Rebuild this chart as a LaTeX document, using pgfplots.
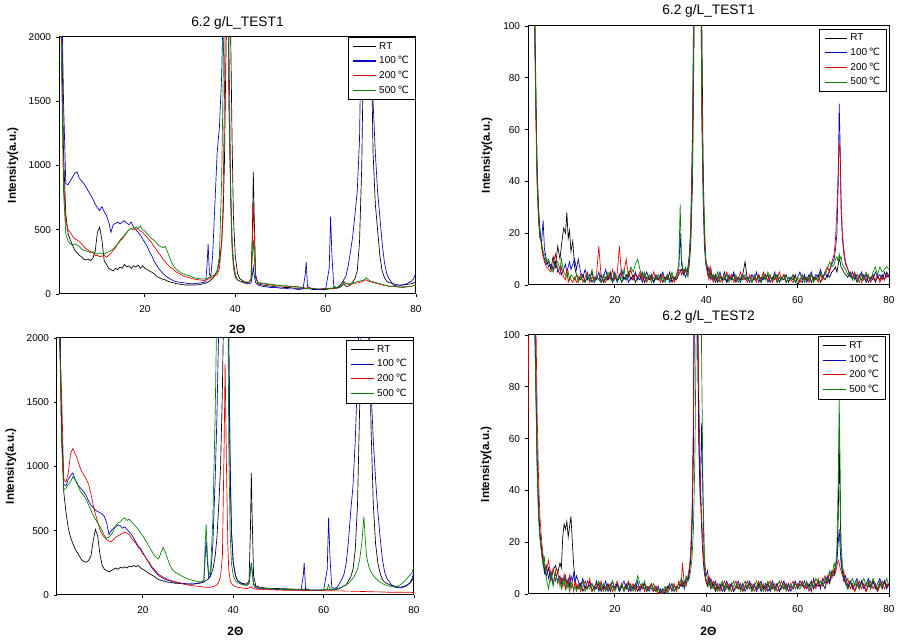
\documentclass[border=0pt]{standalone}
\usepackage{fontspec}
\setmainfont{Liberation Sans}
\newfontfamily\symfont{DejaVu Sans}
\usepackage{pgfplots}
\usepackage{pgfplotstable}
\pgfplotsset{compat=1.18}
\definecolor{cblue}{RGB}{0,0,190}
\definecolor{cred}{RGB}{230,0,0}
\definecolor{cgreen}{RGB}{0,130,0}
\newcommand{\degc}{{\symfont ℃}}

\pgfplotstableread{
x rt b r g
1.0 3000 3000 3000 3000
1.5 2400 2600 2100 1900
2.0 1100 1500 900 800
2.5 620 860 560 470
3.0 470 850 500 410
3.5 420 880 480 390
4.0 380 910 450 380
4.5 340 940 430 390
5.0 320 950 420 380
5.5 300 900 410 370
6.0 290 880 390 350
6.5 270 860 370 340
7.0 265 830 350 335
7.5 270 800 340 330
8.0 260 770 330 320
8.5 280 740 320 330
9.0 330 700 300 320
9.5 480 670 300 310
10.0 520 650 290 320
10.5 420 680 295 315
11.0 260 640 300 310
11.5 230 610 285 320
12.0 200 560 300 330
12.5 190 480 320 340
13.0 180 540 340 350
13.5 200 550 360 370
14.0 190 560 390 390
14.5 210 545 410 420
15.0 200 560 430 440
15.5 230 570 450 460
16.0 210 550 480 480
16.5 220 540 500 500
17.0 200 560 510 510
17.5 220 520 515 500
18.0 210 500 500 520
18.5 225 480 510 510
19.0 200 460 490 530
19.5 220 430 480 500
20.0 200 400 460 490
20.5 190 370 440 470
21.0 180 330 420 450
21.5 170 300 400 430
22.0 160 260 370 420
22.5 140 230 350 400
23.0 130 200 320 380
23.5 120 180 300 370
24.0 115 160 270 360
24.5 110 145 250 370
25.0 100 130 230 330
25.5 95 120 210 280
26.0 90 110 200 240
26.5 85 100 185 210
27.0 80 95 170 190
28.0 75 90 150 165
29.0 70 85 135 150
30.0 70 80 125 140
31.0 70 80 115 125
32.0 72 85 110 120
33.0 80 90 105 115
33.5 85 100 110 120
33.8 90 250 110 120
34.0 95 390 115 125
34.3 100 150 120 130
34.6 110 140 130 140
35.0 120 300 130 140
35.5 150 700 140 150
36.0 180 1100 150 170
36.5 250 1300 200 300
37.0 400 1700 400 900
37.3 600 2200 700 1600
37.6 1000 3000 1500 2500
38.0 2000 3500 3000 3500
38.3 3000 3000 3500 3000
38.6 3500 1500 2000 1500
39.0 2000 800 800 700
39.3 1200 400 400 350
39.6 600 250 250 200
40.0 300 150 150 130
40.5 160 110 110 110
41.0 120 100 100 100
42.0 95 85 90 95
43.0 90 80 90 90
43.5 110 85 120 110
43.8 500 150 400 300
44.0 950 210 700 420
44.2 600 150 500 300
44.5 150 90 150 120
45.0 80 70 85 90
46.0 70 60 80 85
47.0 65 55 75 80
48.0 60 50 70 75
49.0 55 50 65 70
50.0 55 45 65 65
51.0 50 45 60 65
52.0 50 40 60 60
53.0 45 40 55 60
54.0 45 35 55 55
55.0 45 40 50 50
55.5 40 150 45 45
55.7 40 250 45 45
56.0 40 60 50 45
57.0 40 35 45 45
58.0 35 35 40 40
59.0 35 35 40 40
60.0 35 40 45 40
60.8 40 200 40 45
61.1 40 600 45 45
61.4 40 300 45 45
61.8 45 60 45 50
62.5 45 50 50 50
63.0 50 60 60 60
63.5 60 80 80 75
64.0 80 110 100 95
64.5 60 140 80 80
65.0 60 220 75 80
65.5 70 330 75 80
66.0 95 450 80 85
66.5 120 620 85 90
67.0 180 800 85 95
67.5 400 1200 90 100
68.0 1000 2300 95 105
68.5 2200 3000 105 110
69.0 3000 3000 110 125
69.5 3000 2500 100 110
70.0 2200 2100 95 100
70.5 1100 1500 90 95
71.0 700 1100 85 90
71.5 500 800 80 85
72.0 300 600 75 80
72.5 180 400 70 75
73.0 130 250 65 70
73.5 100 160 65 65
74.0 90 120 60 60
75.0 80 70 60 60
76.0 70 60 55 55
77.0 70 70 55 50
78.0 75 80 60 55
79.0 80 100 60 60
79.5 85 120 65 65
80.0 100 170 70 70
}\tabTL

\pgfplotstableread{
x rt b r g
1.0 3000 3000 3000 3000
1.5 2500 2500 2000 2200
2.0 1300 1300 1600 1200
2.5 800 860 900 820
3.0 640 850 880 830
3.5 520 900 950 860
4.0 450 930 1100 880
4.5 400 950 1140 920
5.0 360 900 1100 900
5.5 330 860 1060 870
6.0 300 840 1000 820
6.5 270 820 960 790
7.0 260 800 930 770
7.5 255 770 900 740
8.0 270 730 860 700
8.5 300 700 790 660
9.0 420 680 700 620
9.5 510 660 630 590
10.0 460 650 570 560
10.5 320 640 510 530
11.0 230 630 470 500
11.5 200 610 450 460
12.0 190 560 430 440
12.5 180 470 420 450
13.0 190 500 415 470
13.5 200 520 430 500
14.0 210 530 450 540
14.5 200 545 460 560
15.0 215 540 470 570
15.5 210 520 480 590
16.0 220 530 490 600
16.5 210 510 480 580
17.0 225 490 470 590
17.5 220 470 440 570
18.0 230 440 420 550
18.5 220 410 400 530
19.0 230 380 370 510
19.5 210 360 350 480
20.0 200 330 320 460
20.5 190 300 300 430
21.0 175 270 270 400
21.5 165 240 250 370
22.0 155 210 220 340
22.5 145 190 200 310
23.0 130 170 180 290
23.5 120 150 160 280
24.0 115 140 150 330
24.5 110 130 140 370
25.0 105 120 130 330
25.5 100 115 120 280
26.0 98 110 115 230
26.5 95 105 110 200
27.0 92 100 105 180
28.0 90 95 95 160
29.0 88 90 85 140
30.0 85 85 78 125
31.0 85 85 72 115
32.0 88 90 68 105
33.0 95 100 65 100
33.5 100 110 60 120
33.8 110 300 60 400
34.0 115 420 60 550
34.3 120 250 60 300
34.6 130 130 60 150
35.0 150 160 60 200
35.5 200 400 65 600
36.0 300 900 70 1400
36.4 450 1400 80 2300
36.8 700 2100 100 3000
37.2 1000 2500 150 2500
37.6 1600 2800 300 2200
38.0 2500 3000 1200 2300
38.2 3000 3000 1800 2600
38.5 3500 3000 1000 3000
38.8 3000 2800 400 2500
39.0 2000 2000 200 1200
39.3 1000 1100 120 500
39.6 500 500 90 250
40.0 250 250 75 150
40.5 150 150 65 110
41.0 110 110 60 95
42.0 90 85 55 80
43.0 85 75 50 75
43.5 110 90 55 90
43.8 500 180 60 180
44.0 950 250 65 250
44.2 600 180 55 180
44.5 150 80 50 90
45.0 70 55 45 60
46.0 60 50 45 55
47.0 55 48 42 52
48.0 52 45 40 50
49.0 50 45 40 48
50.0 50 42 38 45
52.0 48 40 37 43
54.0 45 38 36 40
55.0 45 38 36 40
55.5 45 150 35 40
55.7 45 250 35 40
56.0 42 50 35 40
57.0 40 35 34 38
58.0 40 35 34 38
59.0 40 35 34 38
60.0 40 38 33 40
60.8 42 200 33 45
61.1 42 600 33 80
61.4 42 300 33 50
61.8 42 60 33 45
62.5 40 50 32 45
63.0 45 60 32 50
63.5 50 90 32 55
64.0 60 120 32 60
64.5 70 160 31 70
65.0 80 250 30 80
65.5 110 420 30 90
66.0 140 650 30 110
66.5 200 850 29 130
67.0 350 1200 29 160
67.5 700 1700 28 200
68.0 1500 2400 28 280
68.5 2500 3000 27 420
68.9 3000 3000 27 610
69.2 3000 2800 27 450
69.5 2800 2500 26 300
70.0 2200 2000 26 220
70.5 1300 1600 25 180
71.0 700 1200 25 150
71.5 400 900 24 130
72.0 250 650 24 115
72.5 170 450 24 100
73.0 120 280 23 90
73.5 100 180 23 80
74.0 90 130 22 75
75.0 75 80 22 65
76.0 65 60 22 60
77.0 60 55 22 80
78.0 70 65 21 110
79.0 90 90 21 150
79.5 110 120 20 170
80.0 140 180 20 220
}\tabBL

\pgfplotstableread{
x rt b r g
1.0 14 150 150 150
1.2 150 150 150 150
2.0 150 150 150 150
2.4 120 110 100 110
2.7 70 80 75 65
3.0 45 40 42 38
3.3 30 26 28 25
3.6 22 18 20 19
4.0 15 17 14 16
4.3 12 25 11 13
4.6 10 14 9 12
5.0 8 10 7 9
5.5 9 7 6 10
6.0 6 8 5 7
6.5 11 6 8 5
7.0 7 9 12 8
7.5 15 5 6 9
8.0 10 7 4 6
8.3 15 4 7 10
8.8 22 6 3 5
9.2 20 8 2 4
9.5 28 5 6 3
9.8 18 7 1 5
10.1 21 9 3 2
10.4 13 6 2 4
10.8 17 8 1 3
11.2 7 10 3 2
11.6 4 6 1 4
12.0 3 10 2 1
12.5 2 5 4 3
13.0 4 3 1 2
13.5 1 6 3 1
14.0 3 2 5 4
14.5 2 4 1 2
15.0 5 1 3 6
15.5 1 3 2 1
16.0 3 2 4 3
16.5 2 5 15 2
17.0 4 1 3 1
17.5 1 3 2 4
18.0 3 6 1 2
18.5 2 2 4 5
19.0 5 4 2 3
19.5 1 2 6 1
20.0 3 5 2 4
20.5 2 1 4 2
21.0 4 3 15 3
21.5 1 6 3 1
22.0 3 2 5 6
22.5 2 4 10 2
23.0 5 1 3 4
23.5 2 3 6 7
24.0 4 2 2 5
24.5 1 5 4 8
25.0 3 2 3 10
25.5 2 4 5 6
26.0 5 1 2 3
26.5 1 3 4 5
27.0 3 5 1 2
27.5 2 2 3 4
28.0 4 3 2 1
28.5 1 1 5 3
29.0 3 4 2 2
29.5 2 2 3 4
30.0 4 3 1 2
30.5 1 5 4 3
31.0 3 2 2 1
31.5 2 4 3 4
32.0 5 1 2 2
32.5 1 3 4 5
33.0 3 2 1 2
33.5 2 4 3 4
34.0 4 6 5 8
34.3 5 20 6 31
34.6 6 8 4 10
35.0 4 5 6 5
35.5 6 3 5 7
36.0 5 7 4 3
36.3 8 12 10 9
36.6 15 22 20 18
37.0 40 60 55 45
37.3 90 120 110 100
37.6 150 150 150 150
38.0 150 150 150 150
38.4 150 150 150 150
38.8 150 130 140 150
39.0 110 70 90 68
39.3 50 35 45 40
39.6 20 15 18 25
39.9 10 8 9 9
40.3 6 5 4 7
40.6 3 7 2 5
41.0 5 2 7 3
41.5 2 4 1 4
42.0 4 1 3 2
42.5 1 3 2 5
43.0 3 5 4 1
43.5 2 2 1 3
44.0 5 3 3 2
44.5 1 1 5 4
45.0 3 4 2 1
45.5 2 2 4 3
46.0 4 5 1 2
46.5 1 2 3 4
47.0 3 3 2 1
47.5 2 1 5 3
48.0 4 4 2 2
48.5 9 2 3 4
49.0 2 3 1 2
49.5 3 1 4 3
50.0 1 4 2 1
50.5 3 2 3 4
51.0 2 5 1 2
51.5 4 1 4 3
52.0 1 3 2 1
52.5 3 2 5 4
53.0 2 4 3 2
53.5 4 1 2 5
54.0 1 3 4 3
54.5 3 2 1 2
55.0 2 5 3 4
55.5 4 1 2 1
56.0 1 3 5 3
56.5 3 2 2 2
57.0 2 4 4 4
57.5 4 1 1 1
58.0 1 3 3 3
58.5 3 2 2 2
59.0 2 4 1 4
59.5 4 1 3 1
60.0 0 3 2 3
60.5 2 5 1 2
61.0 1 2 4 4
61.5 3 4 2 1
62.0 2 1 3 3
62.5 4 3 1 2
63.0 1 5 4 4
63.5 3 2 2 1
64.0 2 4 3 3
64.5 4 3 1 2
65.0 1 6 4 5
65.5 3 3 2 3
66.0 2 5 5 4
66.5 4 3 7 6
67.0 3 6 5 9
67.5 5 8 9 7
68.0 6 10 12 8
68.3 7 14 18 10
68.6 5 20 29 11
68.9 8 40 45 9
69.1 10 70 55 12
69.3 9 55 50 10
69.5 7 30 35 11
69.8 6 18 20 8
70.1 5 12 14 7
70.5 4 8 9 6
71.0 3 6 6 4
71.5 5 3 4 5
72.0 2 5 3 2
72.5 4 2 5 4
73.0 1 4 2 3
73.5 3 3 4 1
74.0 2 5 1 4
74.5 4 2 3 2
75.0 1 4 2 5
75.5 3 1 4 3
76.0 2 3 1 2
76.5 4 2 3 5
77.0 1 5 2 7
77.5 3 3 4 4
78.0 2 4 1 7
78.5 4 2 3 5
79.0 2 5 2 6
79.5 5 3 4 7
80.0 3 4 3 6
}\tabTR

\pgfplotstableread{
x rt b r g
1.0 150 150 60 150
1.3 150 150 150 150
2.0 150 150 150 150
2.4 120 110 150 115
2.7 85 82 110 80
3.0 52 50 70 48
3.3 34 32 45 30
3.6 24 22 30 22
4.0 17 16 20 15
4.3 13 12 15 11
4.6 10 8 11 14
5.0 7 11 9 6
5.5 10 6 13 2
6.0 5 9 6 8
6.5 9 4 10 3
7.0 11 8 5 9
7.5 8 5 9 4
8.0 12 7 3 6
8.3 10 4 6 2
8.6 22 6 3 5
8.9 27 5 8 3
9.2 25 7 2 6
9.5 28 4 5 2
9.8 22 6 3 4
10.1 26 3 7 1
10.4 30 7 2 5
10.7 20 5 4 3
11.0 11 8 1 2
11.3 6 4 5 3
11.6 3 7 2 1
12.0 2 5 4 3
12.5 4 3 1 2
13.0 1 6 3 5
13.5 3 2 5 1
14.0 2 5 2 3
14.5 5 3 6 2
15.0 1 4 1 4
15.5 3 2 3 1
16.0 2 5 4 3
16.5 4 1 2 5
17.0 1 4 5 2
17.5 3 2 1 4
18.0 2 5 3 1
18.5 4 1 2 3
19.0 1 3 4 2
19.5 3 5 1 5
20.0 2 2 3 1
20.5 4 4 5 3
21.0 1 1 2 2
21.5 3 3 4 4
22.0 2 5 1 1
22.5 4 2 3 3
23.0 1 4 5 2
23.5 3 1 2 4
24.0 2 3 4 1
24.5 4 2 1 3
25.0 1 5 3 7
25.5 3 1 2 4
26.0 2 4 4 2
26.5 4 2 1 5
27.0 1 3 3 1
27.5 3 1 2 3
28.0 2 4 4 2
28.5 1 2 1 4
29.0 3 1 3 1
29.5 0 3 0 2
30.0 2 0 1 0
30.5 0 2 0 1
31.0 1 0 2 3
31.5 3 2 1 0
32.0 2 4 3 2
32.5 4 1 2 4
33.0 1 3 4 1
33.5 3 2 1 3
34.0 2 4 5 2
34.5 4 3 3 6
34.8 3 5 12 4
35.2 5 2 4 3
35.6 4 6 3 7
36.0 6 5 7 5
36.3 9 8 10 6
36.6 13 14 16 9
36.9 25 28 32 14
37.2 55 60 70 25
37.5 150 150 150 50
37.8 150 150 150 100
38.1 110 100 120 150
38.4 60 55 75 150
38.7 40 35 45 150
39.0 25 66 30 90
39.3 14 35 18 40
39.6 8 10 9 15
39.9 5 7 6 8
40.3 3 9 4 6
40.6 6 4 7 3
41.0 2 6 3 5
41.5 4 3 5 2
42.0 1 5 2 4
42.5 3 2 4 1
43.0 2 4 1 3
43.5 4 1 3 5
44.0 1 3 5 2
44.5 3 5 2 4
45.0 2 2 4 1
45.5 4 4 1 3
46.0 1 1 3 5
46.5 3 3 5 2
47.0 2 5 2 4
47.5 4 2 4 1
48.0 1 4 1 3
48.5 3 1 3 5
49.0 2 3 5 2
49.5 4 5 2 4
50.0 1 2 4 1
50.5 3 4 1 3
51.0 2 1 3 5
51.5 4 3 5 2
52.0 1 5 2 4
52.5 3 2 4 1
53.0 2 4 1 3
53.5 4 1 3 5
54.0 1 3 5 2
54.5 3 5 2 4
55.0 2 2 4 1
55.5 4 4 1 3
56.0 1 1 3 5
56.5 3 3 5 2
57.0 2 5 2 4
57.5 4 2 4 1
58.0 1 4 1 3
58.5 3 1 3 4
59.0 2 3 5 2
59.5 4 5 2 4
60.0 3 2 4 3
60.5 5 4 3 2
61.0 4 3 5 4
61.5 2 5 2 3
62.0 4 2 4 5
62.5 3 4 1 2
63.0 5 1 3 4
63.5 2 6 5 3
64.0 4 3 2 6
64.5 3 5 6 4
65.0 5 2 3 5
65.5 4 6 5 3
66.0 2 4 7 6
66.5 6 7 4 5
67.0 4 5 8 9
67.5 8 9 6 7
68.0 7 8 10 12
68.3 10 11 8 10
68.6 14 13 11 18
68.9 30 20 13 45
69.1 60 25 12 76
69.3 35 18 10 50
69.5 15 12 9 20
69.8 9 8 7 11
70.1 6 5 9 7
70.5 4 7 4 5
71.0 2 3 6 2
71.5 5 5 2 4
72.0 3 2 4 6
72.5 1 4 1 3
73.0 4 6 3 5
73.5 2 3 5 2
74.0 5 5 2 4
74.5 3 2 4 6
75.0 1 4 1 3
75.5 4 6 3 5
76.0 2 3 5 2
76.5 5 5 2 6
77.0 3 2 4 4
77.5 1 4 1 2
78.0 4 6 3 5
78.5 2 3 5 3
79.0 5 5 2 4
79.5 3 2 4 6
80.0 4 4 3 3
}\tabBR

\pgfplotsset{
  xrdpanel/.style={
    scale only axis,
    xmin=1, xmax=80,
    xtick={20,40,60,80},
    xtick pos=left, ytick pos=left,
    tick align=outside,
    major tick length=2.5pt,
    axis line style={line width=0.75pt},
    every tick/.style={black, line width=0.6pt},
    tick label style={font=\fontsize{7.5}{9}\selectfont},
    xticklabel style={yshift=-2.5pt},
    /pgf/number format/assume math mode=true,
    /pgf/number format/set thousands separator={},
    every axis title shift=0pt,
    title style={font=\fontsize{10.3}{12}\selectfont, anchor=center},
    xlabel style={font=\bfseries\fontsize{9}{10}\selectfont, anchor=center},
    ylabel style={font=\bfseries\fontsize{8.7}{10}\selectfont, anchor=center},
    legend style={anchor=north east, draw=black, fill=white,
      line width=0.75pt,
      font=\fontsize{7.5}{8}\selectfont, inner xsep=3pt, inner ysep=1.5pt,
      row sep=0pt, cells={anchor=west}},
    legend image code/.code={\draw[#1, line width=0.9pt] (0pt,0pt) -- (17pt,0pt);},
    every axis plot/.append style={line width=0.5pt, mark=none},
    clip=true,
  },
}

\begin{document}
\begin{tikzpicture}
\path[use as bounding box] (0pt,0pt) rectangle (682.5pt,480.75pt);

% Top-left
\begin{axis}[xrdpanel, at={(44.25pt,260.25pt)}, anchor=south west,
  width=267.75pt, height=192.75pt,
  ymin=0, ymax=2000, ytick={0,500,1000,1500,2000},
  title={6.2 g/L\_TEST1}, title style={at={(0.5,1.0545)}},
  xlabel={2Θ}, xlabel style={at={(0.5,-0.136)}},
  ylabel={Intensity(a.u.)}, ylabel style={at={(-0.129,0.5)}},
  legend style={at={(1,1)}}]
\addplot[black] table[x=x,y=rt] {\tabTL};
\addlegendentry{RT}
\addplot[cblue] table[x=x,y=b] {\tabTL};
\addlegendentry{100\,\degc}
\addplot[cred] table[x=x,y=r] {\tabTL};
\addlegendentry{200\,\degc}
\addplot[cgreen] table[x=x,y=g] {\tabTL};
\addlegendentry{500\,\degc}
\end{axis}

% Top-right
\begin{axis}[xrdpanel, at={(396pt,267pt)}, anchor=south west,
  width=270.75pt, height=194.25pt,
  ymin=0, ymax=100, ytick={0,20,40,60,80,100},
  title={6.2 g/L\_TEST1}, title style={at={(0.5,1.058)}},
  ylabel={Intensity(a.u.)}, ylabel style={at={(-0.1136,0.5)}},
  legend style={at={(0.995,0.99)}}]
\addplot[black] table[x=x,y=rt] {\tabTR};
\addlegendentry{RT}
\addplot[cblue] table[x=x,y=b] {\tabTR};
\addlegendentry{100\,\degc}
\addplot[cred] table[x=x,y=r] {\tabTR};
\addlegendentry{200\,\degc}
\addplot[cgreen] table[x=x,y=g] {\tabTR};
\addlegendentry{500\,\degc}
\end{axis}

% Bottom-left
\begin{axis}[xrdpanel, at={(42.75pt,34.5pt)}, anchor=south west,
  width=267.75pt, height=192.75pt,
  ymin=0, ymax=2000, ytick={0,500,1000,1500,2000},
  xlabel={2Θ}, xlabel style={at={(0.5,-0.140)}},
  ylabel={Intensity(a.u.)}, ylabel style={at={(-0.129,0.5)}},
  legend style={at={(1,0.992)}}]
\addplot[black] table[x=x,y=rt] {\tabBL};
\addlegendentry{RT}
\addplot[cblue] table[x=x,y=b] {\tabBL};
\addlegendentry{100\,\degc}
\addplot[cred] table[x=x,y=r] {\tabBL};
\addlegendentry{200\,\degc}
\addplot[cgreen] table[x=x,y=g] {\tabBL};
\addlegendentry{500\,\degc}
\end{axis}

% Bottom-right
\begin{axis}[xrdpanel, at={(396pt,35.25pt)}, anchor=south west,
  width=270.75pt, height=194.25pt,
  ymin=0, ymax=100, ytick={0,20,40,60,80,100},
  title={6.2 g/L\_TEST2}, title style={at={(0.5,1.0695)}},
  xlabel={2Θ}, xlabel style={at={(0.5,-0.143)}},
  ylabel={Intensity(a.u.)}, ylabel style={at={(-0.116,0.5)}},
  legend style={at={(0.992,0.996)}}]
\addplot[black] table[x=x,y=rt] {\tabBR};
\addlegendentry{RT}
\addplot[cblue] table[x=x,y=b] {\tabBR};
\addlegendentry{100\,\degc}
\addplot[cred] table[x=x,y=r] {\tabBR};
\addlegendentry{200\,\degc}
\addplot[cgreen] table[x=x,y=g] {\tabBR};
\addlegendentry{500\,\degc}
\end{axis}
\end{tikzpicture}
\end{document}
